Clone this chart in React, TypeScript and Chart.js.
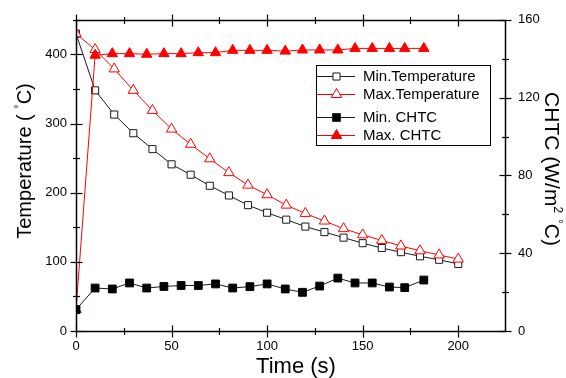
import React, { useEffect, useRef } from 'react';
import { Chart, registerables } from 'chart.js';

Chart.register(...registerables);

// ---- data ----
const tempTimes = [0, 10, 20, 30, 40, 50, 60, 70, 80, 90, 100, 110, 120, 130, 140, 150, 160, 170, 180, 190, 200];
const minTemp = [430, 348, 313, 286, 263, 241, 226, 210, 196, 182, 171, 161, 151, 143, 135, 127, 120, 114, 108, 103, 97];
const maxTemp = [430, 407, 379, 348, 319, 292, 270, 249, 229, 211, 197, 182, 170, 159, 148, 139, 131, 123, 116, 110, 104];
const chtcTimes = [0, 10, 19, 28, 37, 46, 55, 64, 73, 82, 91, 100, 109.5, 118.5, 127.5, 137, 146, 155, 164, 172, 182];
const minCHTC = [11, 22.1, 21.6, 24.7, 22.1, 22.9, 23.4, 23.4, 24.2, 22.1, 22.8, 24.2, 21.6, 19.9, 23.1, 27.2, 24.7, 24.7, 22.6, 22.3, 26.2];
const maxCHTC = [11, 141.8, 142.6, 142.6, 142.3, 142.6, 142.6, 143.1, 143.1, 144.3, 144.3, 144.3, 143.9, 144.5, 144.5, 144.5, 145.3, 145.3, 145.3, 145.3, 145.3];

const seriesNames = ['Min.Temperature', 'Max.Temperature', 'Min. CHTC', 'Max. CHTC'];
const xTicks = [0, 50, 100, 150, 200];
const xMinor = [25, 75, 125, 175];
const tempTicks = [0, 100, 200, 300, 400];
const tempMinor = [50, 150, 250, 350, 450];
const chtcTicks = [0, 40, 80, 120, 160];
const chtcMinor = [20, 60, 100, 140];
const xTitle = 'Time (s)';
const leftTitle = [{ t: 'Temperature ( ' }, { t: '°', sup: true }, { t: 'C)' }];
const rightTitle = [{ t: 'CHTC (W/m' }, { t: '2', sup: true }, { t: ' ' }, { t: '°', sup: true }, { t: 'C)' }];

const FONT = '"Liberation Sans", Arial, sans-serif';
const BLACK = '#1a1a1a';
const RED = '#ff0000';

type Seg = { t: string; sup?: boolean };

function drawRich(ctx: CanvasRenderingContext2D, segs: Seg[], size: number, cx: number, cy: number, rot: number) {
  ctx.save();
  ctx.translate(cx, cy);
  ctx.rotate(rot);
  const supSize = Math.round(size * 0.55);
  let total = 0;
  const widths = segs.map((s) => {
    ctx.font = `${s.sup ? supSize : size}px ${FONT}`;
    const w = ctx.measureText(s.t).width;
    total += w;
    return w;
  });
  let xx = -total / 2;
  ctx.textBaseline = 'middle';
  ctx.textAlign = 'left';
  ctx.fillStyle = '#000';
  segs.forEach((s, i) => {
    ctx.font = `${s.sup ? supSize : size}px ${FONT}`;
    ctx.fillText(s.t, xx, s.sup ? -size * 0.3 : 0);
    xx += widths[i];
  });
  ctx.restore();
}

function marker(ctx: CanvasRenderingContext2D, style: string, x: number, y: number, r: number, fill: string, stroke: string) {
  ctx.save();
  ctx.beginPath();
  if (style === 'rect') {
    const s = Math.SQRT1_2 * r;
    ctx.rect(x - s, y - s, 2 * s, 2 * s);
  } else {
    const w = r * Math.sqrt(3) / 2;
    ctx.moveTo(x, y - r);
    ctx.lineTo(x + w, y + r / 2);
    ctx.lineTo(x - w, y + r / 2);
    ctx.closePath();
  }
  ctx.fillStyle = fill;
  ctx.fill();
  ctx.strokeStyle = stroke;
  ctx.lineWidth = 1;
  ctx.stroke();
  ctx.restore();
}

const decorPlugin = {
  id: 'decor',
  afterDraw(chart: any) {
    const { ctx, chartArea: a, scales } = chart;
    const sx = scales.x, sT = scales.yT, sC = scales.yC;
    const L = Math.round(a.left) + 0.5;
    const R = Math.round(a.right) - 0.5;
    const T = Math.round(a.top) + 0.5;
    const B = Math.round(a.bottom) + 0.5;
    ctx.save();
    ctx.strokeStyle = '#000';
    ctx.lineWidth = 1.5;
    ctx.strokeRect(L, T, R - L, B - T);
    ctx.lineWidth = 1.2;
    const seg = (x1: number, y1: number, x2: number, y2: number) => {
      ctx.beginPath();
      ctx.moveTo(x1, y1);
      ctx.lineTo(x2, y2);
      ctx.stroke();
    };
    const maj = 6, min = 3.5;
    xTicks.forEach((v) => { const p = Math.round(sx.getPixelForValue(v)) + 0.5; seg(p, B - maj, p, B + maj); seg(p, T - maj, p, T + maj); });
    xMinor.forEach((v) => { const p = Math.round(sx.getPixelForValue(v)) + 0.5; seg(p, B - min, p, B + min); seg(p, T - min, p, T + min); });
    tempTicks.forEach((v) => { const p = Math.round(sT.getPixelForValue(v)) + 0.5; seg(L - maj, p, L + maj, p); });
    tempMinor.forEach((v) => { const p = Math.round(sT.getPixelForValue(v)) + 0.5; seg(L - min, p, L + min, p); });
    chtcTicks.forEach((v) => { const p = Math.round(sC.getPixelForValue(v)) + 0.5; seg(R - maj, p, R + maj, p); });
    chtcMinor.forEach((v) => { const p = Math.round(sC.getPixelForValue(v)) + 0.5; seg(R - min, p, R + min, p); });

    // axis titles
    drawRich(ctx, leftTitle, 20, 25, 161, -Math.PI / 2);
    drawRich(ctx, rightTitle, 21, 551, 169, Math.PI / 2);
    drawRich(ctx, [{ t: xTitle }], 22, 296, 366.5, 0);

    // legend
    const bx = 316.5, by = 65.5, bw = 174, bh = 80;
    ctx.fillStyle = '#fff';
    ctx.fillRect(bx, by, bw, bh);
    ctx.strokeStyle = '#000';
    ctx.lineWidth = 1;
    ctx.strokeRect(bx, by, bw, bh);
    const rows = [
      { y: 76, color: BLACK, style: 'rect', fill: '#fff', r: 5 },
      { y: 94, color: RED, style: 'triangle', fill: '#fff', r: 6 },
      { y: 117, color: BLACK, style: 'rect', fill: '#000', r: 5.5 },
      { y: 135, color: RED, style: 'triangle', fill: RED, r: 6 },
    ];
    rows.forEach((row, i) => {
      ctx.strokeStyle = row.color;
      ctx.lineWidth = 1;
      seg(317, row.y + 0.5, 355, row.y + 0.5);
      marker(ctx, row.style, 336.5, row.y + 0.5, row.r, row.fill, row.color);
      ctx.fillStyle = '#000';
      ctx.font = `15px ${FONT}`;
      ctx.textAlign = 'left';
      ctx.textBaseline = 'middle';
      ctx.fillText(seriesNames[i], 363, row.y + 1);
    });
    ctx.restore();
  },
};

const pts = (xs: number[], ys: number[]) => xs.map((x, i) => ({ x, y: ys[i] }));

export default function App() {
  const ref = useRef<HTMLCanvasElement | null>(null);
  useEffect(() => {
    if (!ref.current) return;
    const tickFont = { family: FONT, size: 13 };
    const noGrid = { display: false, drawTicks: false };
    const chart = new Chart(ref.current, {
      type: 'line',
      data: {
        datasets: [
          {
            label: seriesNames[0], data: pts(tempTimes, minTemp), yAxisID: 'yT', order: 3,
            borderColor: BLACK, borderWidth: 1, pointStyle: 'rect', pointRadius: 5,
            pointBackgroundColor: '#fff', pointBorderColor: BLACK, pointBorderWidth: 1,
          },
          {
            label: seriesNames[1], data: pts(tempTimes, maxTemp), yAxisID: 'yT', order: 2,
            borderColor: RED, borderWidth: 1, pointStyle: 'triangle', pointRadius: 6,
            pointBackgroundColor: '#fff', pointBorderColor: RED, pointBorderWidth: 1,
          },
          {
            label: seriesNames[2], data: pts(chtcTimes, minCHTC), yAxisID: 'yC', order: 0,
            borderColor: BLACK, borderWidth: 1, pointStyle: 'rect', pointRadius: 5.5,
            pointBackgroundColor: '#000', pointBorderColor: '#000', pointBorderWidth: 1,
          },
          {
            label: seriesNames[3], data: pts(chtcTimes, maxCHTC), yAxisID: 'yC', order: 1,
            borderColor: RED, borderWidth: 1, pointStyle: 'triangle', pointRadius: 6,
            pointBackgroundColor: RED, pointBorderColor: RED, pointBorderWidth: 1,
          },
        ] as any,
      },
      options: {
        animation: false,
        responsive: false,
        maintainAspectRatio: false,
        layout: { padding: { top: 15, left: 0, right: 0, bottom: 0 } },
        plugins: { legend: { display: false }, tooltip: { enabled: false } },
        elements: { line: { tension: 0 } },
        scales: {
          x: {
            type: 'linear', position: 'bottom', min: 0, max: 225,
            grid: noGrid, border: { display: false },
            ticks: { font: tickFont, color: '#000', padding: 8, maxRotation: 0, autoSkip: false },
            afterBuildTicks: (s: any) => { s.ticks = xTicks.map((v) => ({ value: v })); },
            afterFit: (s: any) => { s.height = 47; },
          },
          yT: {
            type: 'linear', position: 'left', min: 0, max: 450,
            grid: noGrid, border: { display: false },
            ticks: { font: tickFont, color: '#000', padding: 9 },
            afterBuildTicks: (s: any) => { s.ticks = tempTicks.map((v) => ({ value: v })); },
            afterFit: (s: any) => { s.width = 76; },
          },
          yC: {
            type: 'linear', position: 'right', min: 0, max: 160,
            grid: noGrid, border: { display: false },
            ticks: { font: tickFont, color: '#000', padding: 12 },
            afterBuildTicks: (s: any) => { s.ticks = chtcTicks.map((v) => ({ value: v })); },
            afterFit: (s: any) => { s.width = 60; },
          },
        },
      } as any,
      plugins: [decorPlugin],
    });
    return () => chart.destroy();
  }, []);
  return (
    <div style={{ position: 'absolute', left: 0, top: 0, width: 566, height: 378, background: '#fff' }}>
      <canvas ref={ref} width={566} height={378} style={{ display: 'block' }} />
    </div>
  );
}
